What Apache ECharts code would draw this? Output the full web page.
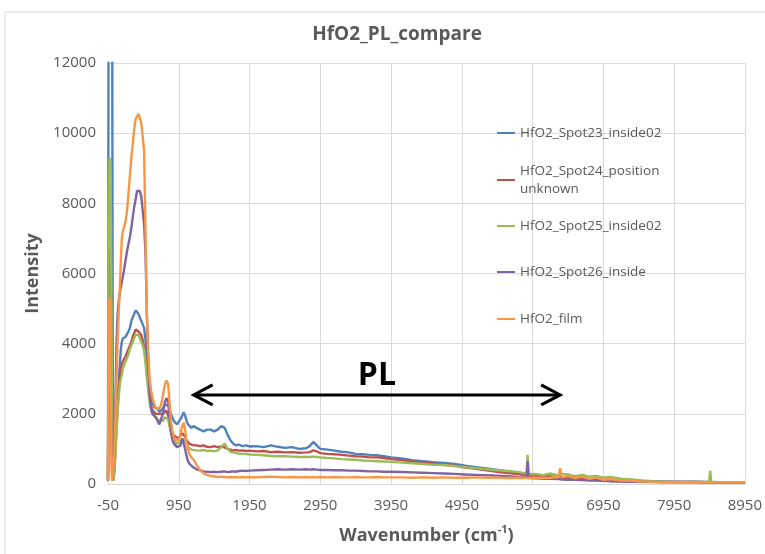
<!DOCTYPE html>
<html>
<head>
<meta charset="utf-8">
<title>HfO2_PL_compare</title>
<script src="https://cdn.jsdelivr.net/npm/echarts/dist/echarts.min.js"></script>
<style>
  html, body { margin: 0; padding: 0; background: #fff; }
  #main { width: 765px; height: 554px; }
</style>
</head>
<body>
<div id="main"></div>
<script>
// wavenumber axis (cm-1), shared by all five spectra
const wavenumber = [
  -50, -42, -35, -28, -20, -12, -5, 3, 10, 18,
  25, 40, 55, 70, 85, 100, 115, 130, 145, 160,
  180, 200, 220, 240, 260, 280, 300, 320, 340, 360,
  380, 400, 420, 440, 460, 480, 500, 520, 540, 560,
  580, 600, 625, 650, 675, 700, 725, 750, 775, 800,
  820, 840, 860, 880, 900, 925, 950, 975, 1000, 1020,
  1040, 1060, 1080, 1100, 1130, 1160, 1200, 1250, 1300, 1350,
  1400, 1450, 1500, 1550, 1600, 1640, 1680, 1720, 1760, 1800,
  1850, 1900, 1950, 2050, 2150, 2250, 2350, 2450, 2550, 2650,
  2750, 2800, 2850, 2900, 2950, 3050, 3150, 3250, 3350, 3450,
  3550, 3650, 3750, 3850, 3950, 4100, 4250, 4400, 4550, 4700,
  4850, 5000, 5150, 5300, 5450, 5600, 5750, 5865, 5880, 5895,
  6000, 6100, 6200, 6320, 6340, 6360, 6450, 6550, 6650, 6750,
  6850, 6950, 7050, 7200, 7350, 7500, 7650, 7800, 7950, 8100,
  8250, 8400, 8445, 8460, 8475, 8600, 8750, 8950
];

const spot23 = [
  100, 14000, 15000, 15000, 15000, 14500, 14000, 13500, 12800, 2000,
  200, 600, 1200, 1800, 2450, 2850, 3350, 3800, 4050, 4150,
  4100, 4200, 4250, 4350, 4450, 4650, 4750, 4850, 4950, 5000,
  4850, 4800, 4650, 4700, 4450, 4100, 3700, 3300, 2750, 2450,
  2300, 2200, 2150, 2150, 2050, 2100, 2150, 2250, 2300, 2250,
  2150, 2000, 1900, 1800, 1750, 1700, 1750, 1850, 1950, 2050,
  1950, 1800, 1700, 1650, 1600, 1650, 1600, 1550, 1500, 1550,
  1550, 1500, 1550, 1650, 1600, 1400, 1250, 1150, 1100, 1120,
  1080, 1100, 1070, 1080, 1050, 1100, 1060, 1030, 1050, 1000,
  1020, 1080, 1200, 1100, 1000, 980, 950, 920, 900, 860,
  850, 830, 820, 790, 760, 730, 680, 650, 620, 600,
  570, 520, 480, 440, 400, 360, 320, 290, 300, 280,
  260, 240, 220, 200, 190, 190, 180, 170, 160, 140,
  130, 120, 110, 100, 90, 80, 70, 65, 60, 60,
  55, 55, 55, 55, 55, 50, 50, 50
];

const spot24 = [
  100, 5500, 6400, 6700, 6500, 6000, 5000, 3000, 1500, 400,
  100, 400, 1000, 1600, 2200, 2650, 3000, 3250, 3400, 3500,
  3550, 3650, 3750, 3850, 3950, 4050, 4200, 4300, 4400, 4450,
  4350, 4300, 4250, 4100, 3900, 3600, 3200, 2800, 2400, 2200,
  2100, 2050, 2000, 2050, 2000, 1950, 2000, 2050, 2100, 1950,
  1700, 1550, 1450, 1400, 1350, 1300, 1300, 1350, 1450, 1420,
  1350, 1250, 1200, 1150, 1120, 1100, 1100, 1080, 1100, 1060,
  1050, 1080, 1050, 1070, 1040, 1000, 980, 960, 970, 950,
  960, 940, 950, 930, 940, 910, 920, 900, 910, 890,
  900, 910, 960, 930, 880, 860, 850, 830, 810, 790,
  780, 760, 760, 740, 710, 680, 640, 610, 580, 550,
  520, 470, 430, 390, 350, 310, 280, 250, 250, 240,
  220, 200, 190, 170, 170, 160, 150, 140, 130, 120,
  110, 100, 90, 80, 70, 65, 60, 55, 55, 55,
  55, 50, 50, 50, 50, 50, 50, 50
];

const spot25 = [
  100, 7500, 8600, 9300, 9200, 8700, 6500, 3500, 1500, 400,
  100, 300, 800, 1400, 2000, 2450, 2800, 3000, 3100, 3300,
  3400, 3500, 3600, 3700, 3850, 3950, 4050, 4150, 4250, 4300,
  4250, 4150, 4050, 3950, 3800, 3450, 3000, 2650, 2300, 2100,
  2000, 1950, 1900, 1850, 1800, 1750, 1800, 1900, 1950, 1850,
  1650, 1450, 1350, 1250, 1200, 1150, 1150, 1200, 1280, 1300,
  1250, 1150, 1050, 1000, 980, 970, 960, 950, 970, 940,
  950, 930, 960, 1050, 1150, 1000, 920, 900, 880, 870,
  860, 850, 840, 830, 820, 800, 790, 790, 780, 770,
  770, 770, 780, 770, 760, 740, 730, 710, 700, 690,
  670, 660, 650, 640, 630, 610, 590, 570, 550, 540,
  510, 480, 450, 420, 390, 370, 340, 300, 830, 280,
  290, 250, 300, 240, 260, 290, 270, 220, 260, 210,
  230, 180, 200, 150, 130, 100, 80, 70, 60, 60,
  55, 55, 55, 380, 55, 50, 50, 50
];

const spot26 = [
  100, 4000, 4600, 4500, 4000, 3000, 1800, 600, 100, 50,
  50, 800, 2500, 4000, 4800, 5200, 5400, 5600, 5750, 5900,
  6150, 6400, 6650, 6850, 7050, 7300, 7600, 7900, 8100, 8350,
  8400, 8350, 8200, 7800, 7400, 6600, 4800, 3400, 2500, 2150,
  2000, 1950, 1900, 1800, 1700, 1750, 2000, 2300, 2450, 2350,
  1900, 1500, 1250, 1150, 1100, 1050, 1000, 1100, 1300, 1250,
  1000, 800, 650, 580, 520, 470, 420, 390, 360, 350,
  340, 350, 340, 350, 360, 340, 350, 360, 350, 370,
  380, 370, 380, 390, 400, 410, 420, 410, 420, 410,
  420, 410, 420, 410, 400, 400, 390, 390, 380, 380,
  370, 360, 360, 350, 350, 340, 330, 320, 310, 300,
  290, 270, 260, 250, 240, 220, 200, 180, 650, 170,
  160, 150, 150, 140, 130, 130, 120, 120, 110, 100,
  100, 90, 80, 70, 65, 60, 55, 55, 55, 55,
  55, 50, 50, 50, 50, 50, 50, 50
];

const film = [
  100, 4500, 5300, 5200, 4500, 3000, 1500, 500, 100, 50,
  100, 800, 1900, 3000, 4000, 4800, 5500, 6300, 7000, 7200,
  7350, 7500, 7800, 8300, 8800, 9300, 9700, 10100, 10400, 10450,
  10550, 10600, 10300, 9900, 9500, 7200, 4800, 3700, 2950, 2650,
  2450, 2300, 2150, 2100, 2150, 2250, 2500, 2800, 2950, 2850,
  2300, 1800, 1500, 1350, 1250, 1200, 1250, 1450, 1650, 1750,
  1550, 1200, 1000, 850, 750, 700, 550, 400, 300, 260,
  230, 220, 200, 210, 200, 190, 200, 190, 200, 190,
  200, 190, 200, 190, 200, 210, 200, 190, 200, 190,
  200, 190, 200, 190, 200, 190, 200, 190, 190, 200,
  190, 190, 200, 190, 190, 190, 180, 190, 180, 190,
  180, 180, 190, 180, 180, 170, 180, 170, 170, 170,
  180, 170, 180, 200, 450, 190, 230, 170, 210, 150,
  180, 120, 140, 100, 90, 70, 60, 50, 50, 50,
  50, 50, 50, 50, 50, 50, 50, 50
];

const seriesNames = [
  'HfO2_Spot23_inside02',
  'HfO2_Spot24_position unknown',
  'HfO2_Spot25_inside02',
  'HfO2_Spot26_inside',
  'HfO2_film'
];
const seriesValues = [spot23, spot24, spot25, spot26, film];
const colors = ['#4F81BD', '#C0504D', '#9BBB59', '#8064A2', '#F79646'];

// "PL" annotation, in data units
const arrowFrom = 1160, arrowTo = 6340, arrowY = 2540;
const plLabelX = 3750, plLabelY = 3080;

const FONT = '"Open Sans", "Noto Sans", sans-serif';
const GREY = '#595959';
const GRID_GREY = '#d9d9d9';
const legendTops = [133, 180, 226, 272, 319];

const chart = echarts.init(document.getElementById('main'));

const option = {
  animation: false,
  backgroundColor: '#fff',
  textStyle: { fontFamily: FONT },
  title: {
    text: 'HfO2_PL_compare',
    left: 392,
    textAlign: 'center',
    top: 20,
    textStyle: { fontSize: 19, fontWeight: 'bold', color: GREY, fontFamily: FONT }
  },
  grid: { left: 108, right: 17, top: 63, bottom: 70 },
  legend: seriesNames.map((n, i) => ({
    data: [n],
    orient: 'vertical',
    left: 497,
    top: legendTops[i] - 9 - (i === 1 ? 18 : 0),
    padding: 0,
    icon: 'rect',
    itemWidth: 18,
    itemHeight: 2,
    selectedMode: false,
    formatter: name => name === 'HfO2_Spot24_position unknown' ? 'HfO2_Spot24_position\nunknown' : name,
    textStyle: {
      fontFamily: FONT, fontSize: 13.5, color: GREY, lineHeight: 18,
      padding: i === 1 ? [18, 0, 0, 0] : 0
    }
  })),
  xAxis: {
    type: 'value',
    min: -50,
    max: 8950,
    interval: 1000,
    name: '{a|Wavenumber (cm}{s|-1}{a|)}',
    nameLocation: 'middle',
    nameGap: 40,
    nameTextStyle: {
      rich: {
        a: { fontFamily: FONT, fontSize: 18, fontWeight: 'bold', color: GREY, lineHeight: 24 },
        s: { fontFamily: FONT, fontSize: 11, fontWeight: 'bold', color: GREY, lineHeight: 24, verticalAlign: 'top', padding: [0, 0, 8, 0] }
      }
    },
    axisLine: { lineStyle: { color: GRID_GREY } },
    axisTick: { show: false },
    axisLabel: { fontFamily: FONT, fontSize: 15, color: GREY, margin: 14, formatter: v => String(v) },
    splitLine: { show: true, lineStyle: { color: GRID_GREY } }
  },
  yAxis: {
    type: 'value',
    min: 0,
    max: 12000,
    interval: 2000,
    name: 'Intensity',
    nameLocation: 'middle',
    nameGap: 53,
    nameTextStyle: { fontFamily: FONT, fontSize: 18, fontWeight: 'bold', color: GREY },
    axisLine: { show: false },
    axisTick: { show: false },
    axisLabel: { fontFamily: FONT, fontSize: 15, color: GREY, margin: 12, formatter: v => String(v) },
    splitLine: { lineStyle: { color: GRID_GREY } }
  },
  series: seriesNames.map((n, i) => ({
    name: n,
    type: 'line',
    showSymbol: false,
    symbol: 'none',
    data: wavenumber.map((x, k) => [x, seriesValues[i][k]]),
    lineStyle: { width: 2.4, color: colors[i] },
    itemStyle: { color: colors[i] },
    emphasis: { disabled: true }
  }))
};

chart.setOption(option);

// arrow + label placed through the grid's own scales
const p1 = chart.convertToPixel({ gridIndex: 0 }, [arrowFrom, arrowY]);
const p2 = chart.convertToPixel({ gridIndex: 0 }, [arrowTo, arrowY]);
const pt = chart.convertToPixel({ gridIndex: 0 }, [plLabelX, plLabelY]);
const head = 19, spread = 10;
const arrowStyle = { stroke: '#000', lineWidth: 3, fill: null, lineJoin: 'miter' };

chart.setOption({
  graphic: [
    {
      type: 'rect', silent: true, z: -1,
      shape: { x: 5, y: 12, width: 800, height: 600 },
      style: { fill: null, stroke: GRID_GREY, lineWidth: 1 }
    },
    {
      type: 'line', silent: true, z: 100,
      shape: { x1: p1[0], y1: p1[1], x2: p2[0], y2: p2[1] },
      style: arrowStyle
    },
    {
      type: 'polyline', silent: true, z: 100,
      shape: { points: [[p1[0] + head, p1[1] - spread], [p1[0], p1[1]], [p1[0] + head, p1[1] + spread]] },
      style: arrowStyle
    },
    {
      type: 'polyline', silent: true, z: 100,
      shape: { points: [[p2[0] - head, p2[1] - spread], [p2[0], p2[1]], [p2[0] - head, p2[1] + spread]] },
      style: arrowStyle
    },
    {
      type: 'text', silent: true, z: 100,
      x: pt[0], y: pt[1],
      style: {
        text: 'PL', fill: '#000', fontFamily: FONT, fontSize: 32, fontWeight: 'bold',
        align: 'center', verticalAlign: 'middle'
      }
    }
  ]
});
</script>
</body>
</html>
